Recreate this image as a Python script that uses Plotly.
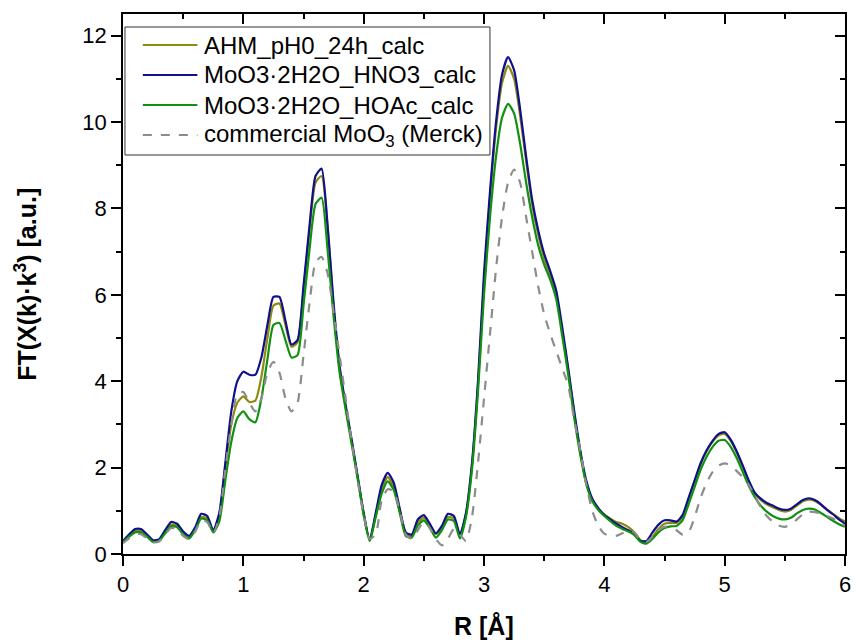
import plotly.graph_objects as go

# Radial distance grid (Å), 0.05 Å sampling
R = [round(i * 0.05, 2) for i in range(121)]

ahm_ph0_24h = [
    0.28, 0.42, 0.53, 0.53, 0.42, 0.30, 0.32, 0.50, 0.68, 0.65,
    0.48, 0.38, 0.58, 0.86, 0.82, 0.52, 0.90, 2.00, 3.00, 3.50,
    3.65, 3.52, 3.55, 4.10, 5.00, 5.75, 5.80, 5.30, 4.80, 4.90,
    6.10, 7.50, 8.60, 8.75, 7.60, 5.70, 4.30, 3.40, 2.60, 1.78,
    0.93, 0.32, 0.90, 1.50, 1.78, 1.55, 1.00, 0.48, 0.42, 0.74,
    0.84, 0.66, 0.46, 0.60, 0.86, 0.82, 0.43, 0.92, 2.05, 3.90,
    6.30, 8.25, 9.85, 10.90, 11.30, 11.00, 10.15, 9.10, 8.10, 7.40,
    6.85, 6.45, 6.00, 5.15, 4.25, 3.25, 2.35, 1.65, 1.25, 1.05,
    0.92, 0.82, 0.74, 0.70, 0.62, 0.50, 0.32, 0.28, 0.40, 0.58,
    0.70, 0.72, 0.72, 0.85, 1.25, 1.68, 2.08, 2.38, 2.60, 2.75,
    2.78, 2.62, 2.35, 2.02, 1.68, 1.40, 1.25, 1.15, 1.08, 1.02,
    0.98, 1.02, 1.12, 1.22, 1.26, 1.23, 1.14, 1.03, 0.93, 0.83,
    0.75,
]

moo3_hno3 = [
    0.30, 0.45, 0.58, 0.58, 0.45, 0.32, 0.34, 0.55, 0.74, 0.70,
    0.52, 0.42, 0.62, 0.93, 0.88, 0.55, 0.95, 2.10, 3.30, 4.00,
    4.22, 4.15, 4.15, 4.55, 5.30, 5.95, 5.95, 5.40, 4.85, 4.95,
    6.20, 7.60, 8.75, 8.92, 7.60, 5.80, 4.35, 3.45, 2.65, 1.80,
    0.95, 0.33, 0.95, 1.60, 1.88, 1.65, 1.05, 0.50, 0.45, 0.80,
    0.90, 0.70, 0.48, 0.65, 0.93, 0.88, 0.45, 0.95, 2.10, 4.00,
    6.50, 8.40, 10.00, 11.10, 11.50, 11.20, 10.30, 9.20, 8.20, 7.50,
    6.95, 6.55, 6.10, 5.25, 4.30, 3.30, 2.40, 1.70, 1.28, 1.06,
    0.90, 0.80, 0.70, 0.62, 0.55, 0.45, 0.30, 0.30, 0.50, 0.68,
    0.78, 0.78, 0.75, 0.90, 1.30, 1.70, 2.10, 2.40, 2.62, 2.78,
    2.82, 2.65, 2.38, 2.05, 1.70, 1.42, 1.28, 1.18, 1.12, 1.05,
    1.02, 1.05, 1.15, 1.25, 1.29, 1.25, 1.15, 1.02, 0.92, 0.80,
    0.70,
]

moo3_hoac = [
    0.27, 0.40, 0.50, 0.50, 0.40, 0.28, 0.30, 0.48, 0.64, 0.62,
    0.45, 0.36, 0.55, 0.82, 0.78, 0.50, 0.75, 1.70, 2.60, 3.15,
    3.30, 3.12, 3.05, 3.60, 4.50, 5.30, 5.35, 4.95, 4.55, 4.60,
    5.75, 7.05, 8.10, 8.25, 7.05, 5.50, 4.20, 3.35, 2.55, 1.75,
    0.90, 0.30, 0.85, 1.40, 1.68, 1.48, 0.95, 0.42, 0.38, 0.66,
    0.78, 0.60, 0.38, 0.55, 0.80, 0.76, 0.36, 0.85, 1.95, 3.75,
    6.00, 7.80, 9.20, 10.10, 10.42, 10.20, 9.50, 8.60, 7.80, 7.15,
    6.70, 6.35, 5.90, 5.05, 4.15, 3.15, 2.30, 1.62, 1.22, 1.02,
    0.88, 0.76, 0.65, 0.58, 0.52, 0.44, 0.28, 0.24, 0.35, 0.50,
    0.60, 0.64, 0.65, 0.78, 1.15, 1.55, 1.95, 2.25, 2.48, 2.62,
    2.64, 2.48, 2.22, 1.90, 1.58, 1.32, 1.12, 0.98, 0.88, 0.82,
    0.80, 0.84, 0.94, 1.02, 1.05, 1.03, 0.95, 0.86, 0.77, 0.69,
    0.63,
]

moo3_merck = [
    0.25, 0.36, 0.46, 0.46, 0.36, 0.27, 0.29, 0.45, 0.60, 0.58,
    0.42, 0.34, 0.52, 0.78, 0.74, 0.48, 0.85, 1.95, 3.00, 3.70,
    3.75, 3.50, 3.30, 3.60, 4.20, 4.45, 4.20, 3.60, 3.30, 3.50,
    4.60, 5.80, 6.75, 6.88, 6.50, 5.60, 4.60, 3.60, 2.60, 1.70,
    0.90, 0.35, 0.45, 1.25, 1.50, 1.45, 1.00, 0.45, 0.35, 0.55,
    0.75, 0.60, 0.35, 0.20, 0.35, 0.58, 0.45, 0.30, 0.85, 2.10,
    3.60, 5.10, 6.60, 7.80, 8.60, 8.90, 8.60, 7.80, 7.00, 6.20,
    5.55, 5.10, 4.70, 4.30, 3.90, 3.10, 2.40, 1.60, 1.00, 0.65,
    0.47, 0.42, 0.42, 0.48, 0.55, 0.50, 0.32, 0.28, 0.40, 0.55,
    0.63, 0.62, 0.55, 0.45, 0.50, 0.85, 1.30, 1.65, 1.90, 2.05,
    2.10, 2.05, 1.92, 1.78, 1.60, 1.35, 1.08, 0.88, 0.75, 0.66,
    0.63, 0.68, 0.80, 0.92, 0.98, 0.97, 0.93, 0.88, 0.82, 0.74,
    0.65,
]

legend_labels = [
    "AHM_pH0_24h_calc",
    "MoO3·2H2O_HNO3_calc",
    "MoO3·2H2O_HOAc_calc",
    "commercial MoO<sub>3</sub> (Merck)",
]
series_values = [ahm_ph0_24h, moo3_hno3, moo3_hoac, moo3_merck]
colors = ["#8c8a10", "#10108c", "#119011", "#8c8c8c"]
dashes = ["solid", "solid", "solid", "dash"]

FONT = "Liberation Sans, Arial, sans-serif"

# plot area in pixels: left 123, right 851, top 14, bottom 554
PL, PR, PT, PB = 123, 851, 14, 554


def px_x(p):
    return (p - PL) / (PR - PL)


def px_y(p):
    return (PB - p) / (PB - PT)


fig = go.Figure()
for name, vals, color, dash in zip(legend_labels, series_values, colors, dashes):
    fig.add_trace(go.Scatter(
        x=R, y=vals, mode="lines", name=name, showlegend=False,
        line=dict(color=color, width=2.2, dash=dash, shape="spline", smoothing=0.6),
    ))

# empty trace so the top/right frame axes get drawn
fig.add_trace(go.Scatter(x=[None], y=[None], xaxis="x2", yaxis="y2",
                         showlegend=False, hoverinfo="skip"))

# legend box drawn as shapes + text
shapes = [dict(type="rect", xref="paper", yref="paper",
               x0=px_x(125), x1=px_x(493), y0=px_y(155), y1=px_y(27),
               line=dict(color="#333333", width=1), fillcolor="white", layer="above")]
annotations = []
row_y = [45, 75, 105, 135]
for label, color, dash, ry in zip(legend_labels, colors, dashes, row_y):
    shapes.append(dict(type="line", xref="paper", yref="paper",
                       x0=px_x(143), x1=px_x(198), y0=px_y(ry), y1=px_y(ry),
                       line=dict(color=color, width=2, dash=dash), layer="above"))
    annotations.append(dict(text=label, xref="paper", yref="paper",
                            x=px_x(203), y=px_y(ry), xanchor="left", yanchor="middle",
                            showarrow=False, font=dict(family=FONT, size=24, color="black")))

annotations += [
    dict(text="<b>R [Å]</b>", xref="paper", yref="paper",
         x=0.5, y=px_y(626), xanchor="center", yanchor="middle", showarrow=False,
         font=dict(family=FONT, size=25, color="black")),
    dict(text="<b>FT(X(k)·k<sup>3</sup>) [a.u.]</b>", xref="paper", yref="paper",
         x=px_x(25), y=0.5, xanchor="center", yanchor="middle",
         textangle=-90, showarrow=False,
         font=dict(family=FONT, size=25, color="black")),
]

x_rng = [0, 6]
y_rng = [0, 12.5]
tick_common = dict(showgrid=False, zeroline=False, showline=True, linecolor="black",
                   linewidth=1.5, ticklen=10, tickwidth=1.5, tickcolor="black")

fig.update_layout(
    width=859, height=643,
    margin=dict(l=PL, r=859 - PR, t=PT, b=643 - PB),
    paper_bgcolor="white", plot_bgcolor="white",
    showlegend=False,
    xaxis=dict(range=x_rng, dtick=1, tick0=0, ticks="outside",
               minor=dict(ticks="outside", ticklen=5, dtick=0.5, tickwidth=1.5, tickcolor="black"),
               tickfont=dict(family=FONT, size=22, color="black"), **tick_common),
    yaxis=dict(range=y_rng, dtick=2, tick0=0, ticks="outside",
               minor=dict(ticks="outside", ticklen=5, dtick=1, tickwidth=1.5, tickcolor="black"),
               tickfont=dict(family=FONT, size=22, color="black"), **tick_common),
    xaxis2=dict(range=x_rng, overlaying="x", side="top", anchor="y2", dtick=1, tick0=0,
                showticklabels=False, ticks="inside",
                minor=dict(ticks="inside", ticklen=5, dtick=0.5, tickwidth=1.5, tickcolor="black"),
                **tick_common),
    yaxis2=dict(range=y_rng, overlaying="y", side="right", anchor="x2", dtick=2, tick0=0,
                showticklabels=False, ticks="inside",
                minor=dict(ticks="inside", ticklen=5, dtick=1, tickwidth=1.5, tickcolor="black"),
                **tick_common),
    shapes=shapes,
    annotations=annotations,
)

fig.write_html("out.html")
